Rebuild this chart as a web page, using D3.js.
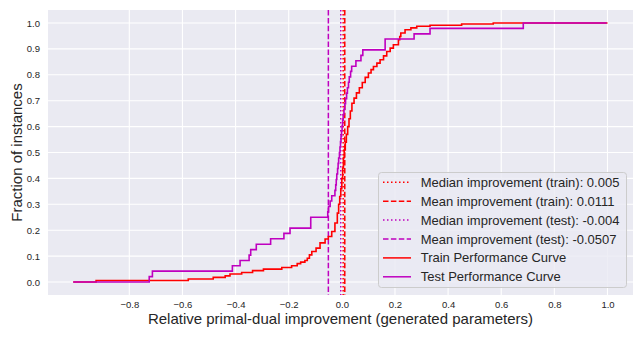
<!DOCTYPE html>
<html>
<head>
<meta charset="utf-8">
<script src="https://cdn.jsdelivr.net/npm/d3@7"></script>
<style>
    body { margin: 0; background: #fff; }
    svg text { font-family: "Liberation Sans", Arial, sans-serif; fill: #262626; }
</style>
</head>
<body>
<svg id="chart" width="644" height="339"></svg>
<script>

// tick values
const xTicks = [-0.8, -0.6, -0.4, -0.2, 0.0, 0.2, 0.4, 0.6, 0.8, 1.0]
const yTicks = [0.0, 0.1, 0.2, 0.3, 0.4, 0.5, 0.6, 0.7, 0.8, 0.9, 1.0]

// summary statistics (vertical reference lines)
const statNames = [
    'Median improvement (train)',
    'Mean improvement (train)',
    'Median improvement (test)',
    'Mean improvement (test)'
]
const statValues = [0.005, 0.0111, -0.004, -0.0507]

const curveNames = ['Train Performance Curve', 'Test Performance Curve']

// train curve, step points (x = improvement, y = fraction)
const trainX = [-1.011, -0.925, -0.578, -0.484, -0.439, -0.421, -0.377, -0.336, -0.295, -0.226,
    -0.189, -0.168, -0.155, -0.139, -0.130, -0.122, -0.113, -0.097, -0.082, -0.063,
    -0.051, -0.038, -0.026, -0.017, -0.012, -0.008, -0.004, 0.000, 0.003, 0.006,
    0.009, 0.013, 0.017, 0.022, 0.027, 0.032, 0.038, 0.046, 0.055, 0.066,
    0.077, 0.088, 0.100, 0.110, 0.119, 0.132, 0.144, 0.157, 0.169, 0.182,
    0.194, 0.213, 0.218, 0.222, 0.238, 0.260, 0.282, 0.332, 0.451, 0.570, 1.0]
const trainY = [0.0, 0.006, 0.012, 0.018, 0.024, 0.031, 0.037, 0.044, 0.050, 0.056,
    0.063, 0.071, 0.077, 0.083, 0.092, 0.105, 0.118, 0.131, 0.151, 0.166,
    0.176, 0.195, 0.228, 0.266, 0.300, 0.330, 0.360, 0.400, 0.440, 0.480,
    0.510, 0.540, 0.570, 0.600, 0.630, 0.660, 0.690, 0.710, 0.730, 0.750,
    0.770, 0.790, 0.807, 0.820, 0.832, 0.845, 0.858, 0.873, 0.890, 0.903,
    0.916, 0.935, 0.948, 0.961, 0.974, 0.981, 0.987, 0.991, 0.996, 1.0, 1.0]

// test curve, step points
const testX = [-1.011, -0.725, -0.713, -0.412, -0.383, -0.349, -0.343, -0.322, -0.268, -0.218,
    -0.195, -0.117, -0.053, -0.050, -0.044, -0.038, -0.026, -0.023, -0.021, -0.019,
    -0.016, -0.014, -0.012, -0.009, -0.007, -0.005, -0.003, -0.001, 0.001, 0.003,
    0.005, 0.008, 0.011, 0.014, 0.018, 0.021, 0.025, 0.028, 0.033, 0.037,
    0.053, 0.072, 0.079, 0.163, 0.272, 0.332, 0.683, 0.997]
const testY = [0.0, 0.021, 0.042, 0.063, 0.083, 0.104, 0.125, 0.146, 0.167, 0.188,
    0.208, 0.250, 0.271, 0.292, 0.313, 0.333, 0.354, 0.375, 0.396, 0.417,
    0.438, 0.458, 0.479, 0.500, 0.521, 0.542, 0.563, 0.583, 0.604, 0.625,
    0.646, 0.667, 0.688, 0.708, 0.729, 0.750, 0.771, 0.792, 0.813, 0.833,
    0.854, 0.875, 0.896, 0.938, 0.958, 0.979, 1.0, 1.0]

const RED = '#ff0000',
      MAGENTA = '#bf00bf'

const statStyles = [
    {color: RED, dash: '1.5,2.5'},
    {color: RED, dash: '5.5,2.4'},
    {color: MAGENTA, dash: '1.5,2.5'},
    {color: MAGENTA, dash: '5.5,2.4'}
]
const curveColors = [RED, MAGENTA]

let svg = d3.select('#chart')

const plot = {left: 48, right: 633, top: 10, bottom: 295}

const x = d3.scaleLinear()
    .domain([-1.106, 1.096])
    .range([plot.left, plot.right])

const y = d3.scaleLinear()
    .domain([-0.05, 1.05])
    .range([plot.bottom, plot.top])

const fmt = d3.format('.1f')

// background
svg.append('rect')
    .attr('x', plot.left)
    .attr('y', plot.top)
    .attr('width', plot.right - plot.left)
    .attr('height', plot.bottom - plot.top)
    .attr('fill', '#eaeaf2')

// grid
svg.append('g')
    .attr('class', 'grid')
    .selectAll('line.gx')
    .data(xTicks)
    .enter().append('line')
    .attr('x1', d => x(d)).attr('x2', d => x(d))
    .attr('y1', plot.top).attr('y2', plot.bottom)
    .attr('stroke', '#fff').attr('stroke-width', 1.1)

svg.append('g')
    .attr('class', 'grid')
    .selectAll('line.gy')
    .data(yTicks)
    .enter().append('line')
    .attr('y1', d => y(d)).attr('y2', d => y(d))
    .attr('x1', plot.left).attr('x2', plot.right)
    .attr('stroke', '#fff').attr('stroke-width', 1.1)

// axes
let xAxis = svg.append('g')
    .attr('transform', `translate(0,${plot.bottom})`)
    .call(d3.axisBottom(x).tickValues(xTicks).tickSize(0).tickPadding(6).tickFormat(fmt))

let yAxis = svg.append('g')
    .attr('transform', `translate(${plot.left},0)`)
    .call(d3.axisLeft(y).tickValues(yTicks).tickSize(0).tickPadding(8).tickFormat(fmt))

;[xAxis, yAxis].forEach(a => {
    a.select('.domain').remove()
    a.selectAll('text')
        .attr('font-size', 9.5)
        .attr('font-family', '"Liberation Sans", Arial, sans-serif')
        .attr('fill', '#262626')
})

// axis labels
svg.append('text')
    .attr('x', (plot.left + plot.right) / 2)
    .attr('y', 323.5)
    .attr('text-anchor', 'middle')
    .attr('font-size', 15)
    .text('Relative primal-dual improvement (generated parameters)')

svg.append('text')
    .attr('transform', `translate(21.5,${(plot.top + plot.bottom) / 2}) rotate(-90)`)
    .attr('text-anchor', 'middle')
    .attr('font-size', 15)
    .text('Fraction of instances')

// vertical stat lines
let stats = svg.append('g').attr('class', 'stats')
statValues.forEach((v, i) => {
    stats.append('line')
        .attr('x1', x(v)).attr('x2', x(v))
        .attr('y1', plot.top).attr('y2', plot.bottom)
        .attr('stroke', statStyles[i].color)
        .attr('stroke-width', 1.5)
        .attr('stroke-dasharray', statStyles[i].dash)
})

// curves
const line = d3.line()
    .x(d => x(d[0]))
    .y(d => y(d[1]))
    .curve(d3.curveStepAfter)

const curves = [d3.zip(trainX, trainY), d3.zip(testX, testY)]

curves.forEach((c, i) => {
    svg.append('path')
        .datum(c)
        .attr('d', line)
        .attr('fill', 'none')
        .attr('stroke', curveColors[i])
        .attr('stroke-width', 1.6)
        .attr('stroke-linejoin', 'miter')
})

// legend
const legend = svg.append('g').attr('class', 'legend')

legend.append('rect')
    .attr('x', 378.5).attr('y', 172.5)
    .attr('width', 248).attr('height', 115)
    .attr('rx', 3)
    .attr('fill', '#eaeaf2').attr('fill-opacity', 0.8)
    .attr('stroke', '#cccccc').attr('stroke-width', 1)

const legendItems = statNames.map((n, i) => ({
        label: n + ': ' + statValues[i],
        color: statStyles[i].color,
        dash: statStyles[i].dash
    }))
    .concat(curveNames.map((n, i) => ({label: n, color: curveColors[i], dash: null})))

legendItems.forEach((item, i) => {
    let ly = 182.3 + i * 18.9
    legend.append('line')
        .attr('x1', 383).attr('x2', 411)
        .attr('y1', ly).attr('y2', ly)
        .attr('stroke', item.color)
        .attr('stroke-width', 1.5)
        .attr('stroke-dasharray', item.dash)
    legend.append('text')
        .attr('x', 420.7)
        .attr('y', ly)
        .attr('dy', '0.35em')
        .attr('font-size', 13)
        .text(item.label)
})

</script>
</body>
</html>
